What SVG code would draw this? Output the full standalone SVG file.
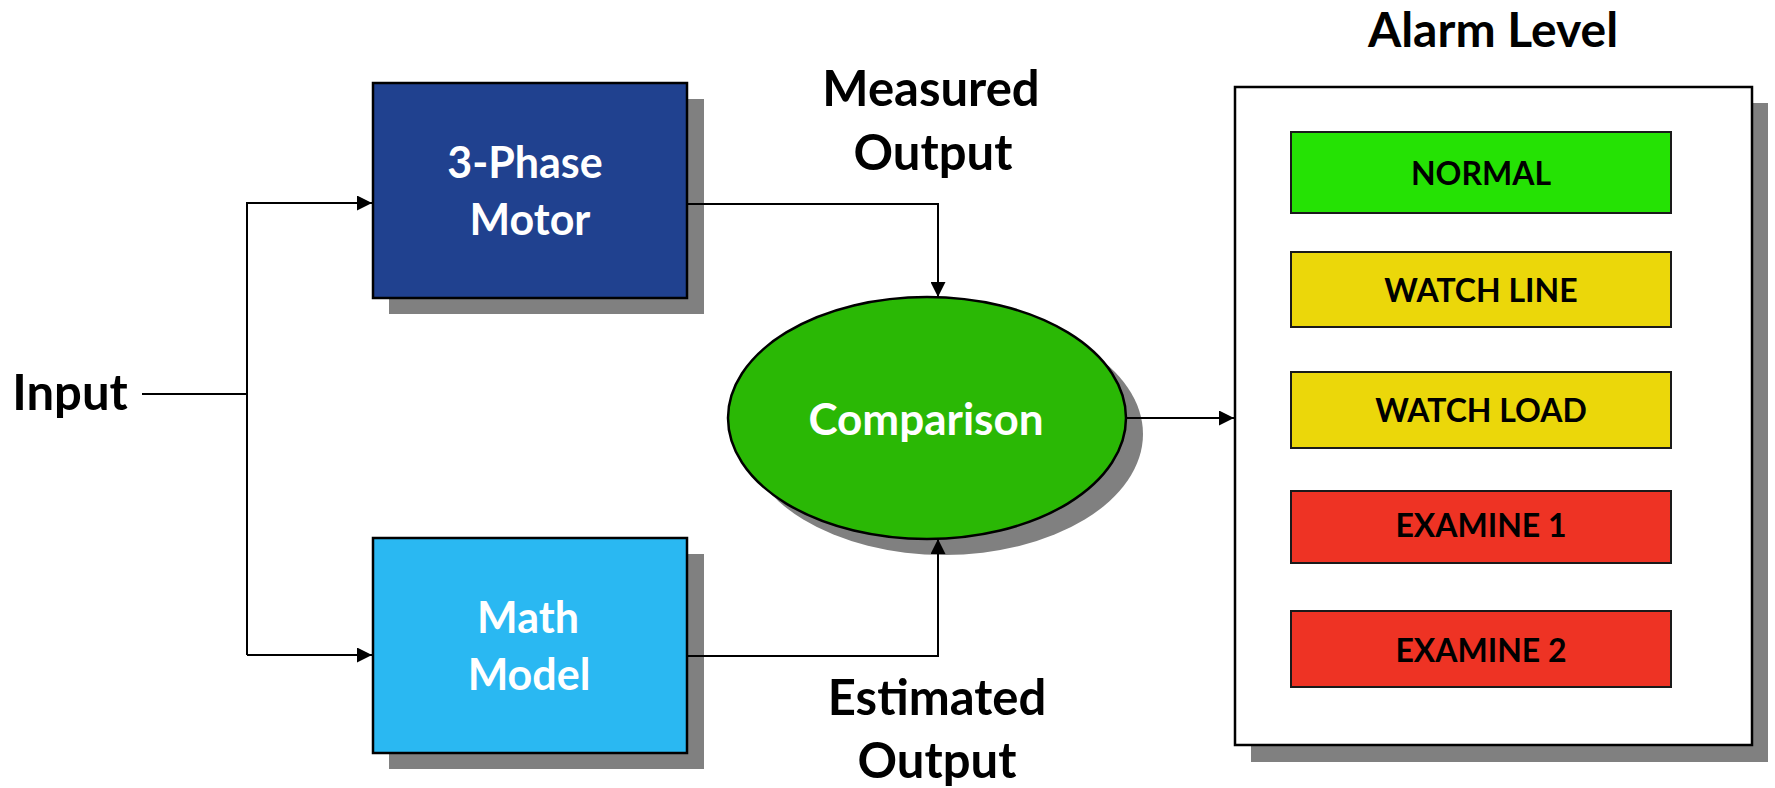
<svg xmlns="http://www.w3.org/2000/svg" width="1775" height="788" viewBox="0 0 1775 788">
<style>
  text { font-family: Lato, "Open Sans", "Liberation Sans", sans-serif; font-weight: bold; text-anchor: middle; }
  .lbl { font-size: 49px; fill: #000; }
  .inbox { font-size: 43px; fill: #fff; }
  .lvl { font-size: 32px; fill: #000; }
  .shadow { fill: #808080; }
  .box { stroke: #000; stroke-width: 2.5; }
  .lvlbox { stroke: #1a1a1a; stroke-width: 2; }
  .conn { fill: none; stroke: #000; stroke-width: 2; }
</style>
<defs>
  <marker id="arr" viewBox="0 0 15 15" refX="15" refY="7.5" markerWidth="15" markerHeight="15" markerUnits="userSpaceOnUse" orient="auto">
    <path d="M0,0 L15,7.5 L0,15 Z" fill="#000"/>
  </marker>
</defs>
<rect width="1775" height="788" fill="#fff"/>

<g id="input-label">
  <text class="lbl" x="70" y="410">Input</text>
</g>

<g id="motor">
  <rect class="shadow" x="389" y="99" width="315" height="215"/>
  <rect class="box" x="373" y="83" width="314" height="215" fill="#20418F"/>
  <text class="inbox" x="525" y="178">3-Phase</text>
  <text class="inbox" x="530" y="235">Motor</text>
</g>

<g id="math-model">
  <rect class="shadow" x="389" y="554" width="315" height="215"/>
  <rect class="box" x="373" y="538" width="314" height="215" fill="#2AB8F2"/>
  <text class="inbox" x="528" y="633">Math</text>
  <text class="inbox" x="529" y="690">Model</text>
</g>

<g id="comparison">
  <ellipse class="shadow" cx="944" cy="434" rx="199" ry="121"/>
  <ellipse class="box" cx="927" cy="418" rx="199" ry="121" fill="#2AB805"/>
  <text class="inbox" x="926" y="435" style="font-size:44px">Comparison</text>
</g>

<g id="measured-label">
  <text class="lbl" x="931" y="106">Measured</text>
  <text class="lbl" x="933" y="170">Output</text>
</g>

<g id="estimated-label">
  <text class="lbl" x="937" y="715">Estimated</text>
  <text class="lbl" x="937" y="778">Output</text>
</g>

<g id="alarm-level">
  <text class="lbl" x="1493" y="47" style="font-size:48px">Alarm Level</text>
  <rect class="shadow" x="1251" y="103" width="517" height="659"/>
  <rect class="box" x="1235" y="87" width="517" height="658" fill="#fff"/>
  <g id="normal">
    <rect class="lvlbox" x="1291" y="132" width="380" height="81" fill="#25E204"/>
    <text class="lvl" x="1481" y="185">NORMAL</text>
  </g>
  <g id="watch-line">
    <rect class="lvlbox" x="1291" y="252" width="380" height="75" fill="#EBD70A"/>
    <text class="lvl" x="1481" y="302">WATCH LINE</text>
  </g>
  <g id="watch-load">
    <rect class="lvlbox" x="1291" y="372" width="380" height="76" fill="#EBD70A"/>
    <text class="lvl" x="1481" y="422">WATCH LOAD</text>
  </g>
  <g id="examine-1">
    <rect class="lvlbox" x="1291" y="491" width="380" height="72" fill="#EE3324"/>
    <text class="lvl" x="1481" y="537">EXAMINE 1</text>
  </g>
  <g id="examine-2">
    <rect class="lvlbox" x="1291" y="611" width="380" height="76" fill="#EE3324"/>
    <text class="lvl" x="1481" y="662">EXAMINE 2</text>
  </g>
</g>

<g id="connectors">
  <path class="conn" d="M142,394 H247"/>
  <path class="conn" d="M247,655 V203 H372" marker-end="url(#arr)"/>
  <path class="conn" d="M247,655 H372" marker-end="url(#arr)"/>
  <path class="conn" d="M687,204 H938 V297" marker-end="url(#arr)"/>
  <path class="conn" d="M687,656 H938 V539" marker-end="url(#arr)"/>
  <path class="conn" d="M1126,418 H1234" marker-end="url(#arr)"/>
</g>
</svg>
